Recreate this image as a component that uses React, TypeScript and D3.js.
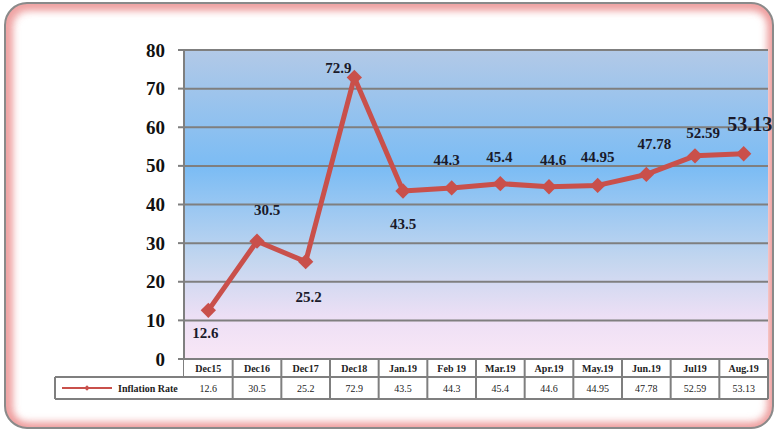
import * as d3 from "d3";

const categories = ["Dec15", "Dec16", "Dec17", "Dec18", "Jan.19", "Feb 19", "Mar.19", "Apr.19", "May.19", "Jun.19", "Jul19", "Aug.19"];
const inflation = [12.6, 30.5, 25.2, 72.9, 43.5, 44.3, 45.4, 44.6, 44.95, 47.78, 52.59, 53.13];
const valueLabels = ["12.6", "30.5", "25.2", "72.9", "43.5", "44.3", "45.4", "44.6", "44.95", "47.78", "52.59", "53.13"];
const yTicks = [0, 10, 20, 30, 40, 50, 60, 70, 80];
const seriesName = "Inflation Rate";

// label offsets (dx, dy) from each point, the way Excel placed them
const labelOffsets: [number, number][] = [
  [-3, 23], [10, -31], [3, 35], [-16, -9], [0, 33], [-5, -28],
  [-1, -27], [4, -27], [0, -28], [8, -30], [8, -23], [6, -30],
];

const W = 779;
const H = 433;
const left = 184;
const right = 768;
const top = 50;
const bottom = 359;
const rowH1 = 18;
const rowH2 = 22;
const legendLeft = 55;
const serif = "Liberation Serif, Times New Roman, DejaVu Serif, serif";
const lineColor = "#c9504b";

export default function App() {
  const x = d3.scaleBand<string>().domain(categories).range([left, right]);
  const y = d3.scaleLinear().domain([0, 80]).range([bottom, top]);
  const cx = (c: string) => (x(c) ?? 0) + x.bandwidth() / 2;

  const line = d3
    .line<number>()
    .x((_, i) => cx(categories[i]))
    .y((d) => y(d));

  const diamond = d3.symbol().type(d3.symbolDiamond2).size(150)();
  const legendDiamond = d3.symbol().type(d3.symbolDiamond2).size(20)();

  const tableTop = bottom;
  const row2 = tableTop + rowH1;
  const tableBottom = row2 + rowH2;
  const gridColor = "#7f7f7f";

  return (
    <svg width={W} height={H} style={{ position: "absolute", left: 0, top: 0 }}>
      <defs>
        <linearGradient id="plotBg" x1="0" y1="0" x2="0" y2="1">
          <stop offset="0" stopColor="#b2c9e7" />
          <stop offset="0.38" stopColor="#7bbcf4" />
          <stop offset="0.68" stopColor="#c3d6ef" />
          <stop offset="0.86" stopColor="#ecdff5" />
          <stop offset="1" stopColor="#f9e7f6" />
        </linearGradient>
        <clipPath id="frameClip">
          <rect x={5} y={3} width={768} height={425} rx={22} />
        </clipPath>
        <filter id="glow" x="-5%" y="-5%" width="110%" height="110%">
          <feGaussianBlur stdDeviation="4" />
        </filter>
      </defs>

      {/* outer frame with a soft reddish inner glow */}
      <rect x={5} y={3} width={768} height={425} rx={22} fill="#ffffff" />
      <g clipPath="url(#frameClip)">
        <rect x={5} y={3} width={768} height={425} rx={22} fill="none" stroke="#ee9a9a" strokeWidth={10} filter="url(#glow)" />
        <rect x={8} y={6} width={768} height={425} rx={22} fill="none" stroke="#eb8c8c" strokeWidth={8} filter="url(#glow)" opacity={0.6} />
      </g>
      <rect x={5} y={3} width={768} height={425} rx={22} fill="none" stroke="#8a8a8a" strokeWidth={2} />

      {/* plot area */}
      <rect x={left} y={top} width={right - left} height={bottom - top} fill="url(#plotBg)" />

      {yTicks.map((t) => (
        <g key={t}>
          {t > 0 && (
            <line x1={left} x2={right} y1={y(t)} y2={y(t)} stroke={gridColor} strokeWidth={2} />
          )}
          <line x1={left - 6} x2={left} y1={y(t)} y2={y(t)} stroke={gridColor} strokeWidth={2} />
          <text
            x={left - 19}
            y={y(t)}
            textAnchor="end"
            dominantBaseline="central"
            fontFamily={serif}
            fontWeight="bold"
            fontSize={19}
            fill="#111"
          >
            {t}
          </text>
        </g>
      ))}
      <line x1={left} x2={left} y1={top} y2={tableBottom} stroke={gridColor} strokeWidth={2} />

      {/* series */}
      <path d={line(inflation) ?? ""} fill="none" stroke={lineColor} strokeWidth={5} strokeLinejoin="round" />
      {inflation.map((v, i) => (
        <path key={i} d={diamond} transform={`translate(${cx(categories[i])},${y(v)})`} fill={lineColor} />
      ))}
      {inflation.map((v, i) => (
        <text
          key={i}
          x={cx(categories[i]) + labelOffsets[i][0]}
          y={y(v) + labelOffsets[i][1]}
          textAnchor="middle"
          dominantBaseline="central"
          fontFamily={serif}
          fontWeight="bold"
          fontSize={i === inflation.length - 1 ? 20 : 15}
          fill="#1a1a2a"
        >
          {valueLabels[i]}
        </text>
      ))}

      {/* data table */}
      <rect x={left} y={tableTop} width={right - left} height={tableBottom - tableTop} fill="#ffffff" />
      <rect x={legendLeft} y={row2} width={left - legendLeft} height={rowH2} fill="#ffffff" />
      <line x1={left} x2={right} y1={tableTop} y2={tableTop} stroke={gridColor} strokeWidth={2} />
      <line x1={legendLeft} x2={right} y1={row2} y2={row2} stroke={gridColor} strokeWidth={2} />
      <line x1={legendLeft} x2={right} y1={tableBottom} y2={tableBottom} stroke={gridColor} strokeWidth={2} />
      <line x1={legendLeft} x2={legendLeft} y1={row2} y2={tableBottom} stroke={gridColor} strokeWidth={2} />
      {categories.map((c) => (
        <line
          key={c}
          x1={(x(c) ?? 0) + x.bandwidth()}
          x2={(x(c) ?? 0) + x.bandwidth()}
          y1={tableTop}
          y2={tableBottom}
          stroke={gridColor}
          strokeWidth={2}
        />
      ))}
      {categories.map((c, i) => (
        <g key={c}>
          <text
            x={cx(c)}
            y={tableTop + rowH1 / 2}
            textAnchor="middle"
            dominantBaseline="central"
            fontFamily={serif}
            fontWeight="bold"
            fontSize={10}
            fill="#222"
          >
            {c}
          </text>
          <text
            x={cx(c)}
            y={row2 + rowH2 / 2}
            textAnchor="middle"
            dominantBaseline="central"
            fontFamily={serif}
            fontSize={10}
            fill="#222"
          >
            {valueLabels[i]}
          </text>
        </g>
      ))}

      {/* legend key */}
      <line x1={62} x2={112} y1={row2 + rowH2 / 2} y2={row2 + rowH2 / 2} stroke={lineColor} strokeWidth={2} />
      <path d={legendDiamond} transform={`translate(87,${row2 + rowH2 / 2})`} fill={lineColor} />
      <text
        x={118}
        y={row2 + rowH2 / 2}
        dominantBaseline="central"
        fontFamily={serif}
        fontWeight="bold"
        fontSize={10}
        fill="#222"
      >
        {seriesName}
      </text>
    </svg>
  );
}
